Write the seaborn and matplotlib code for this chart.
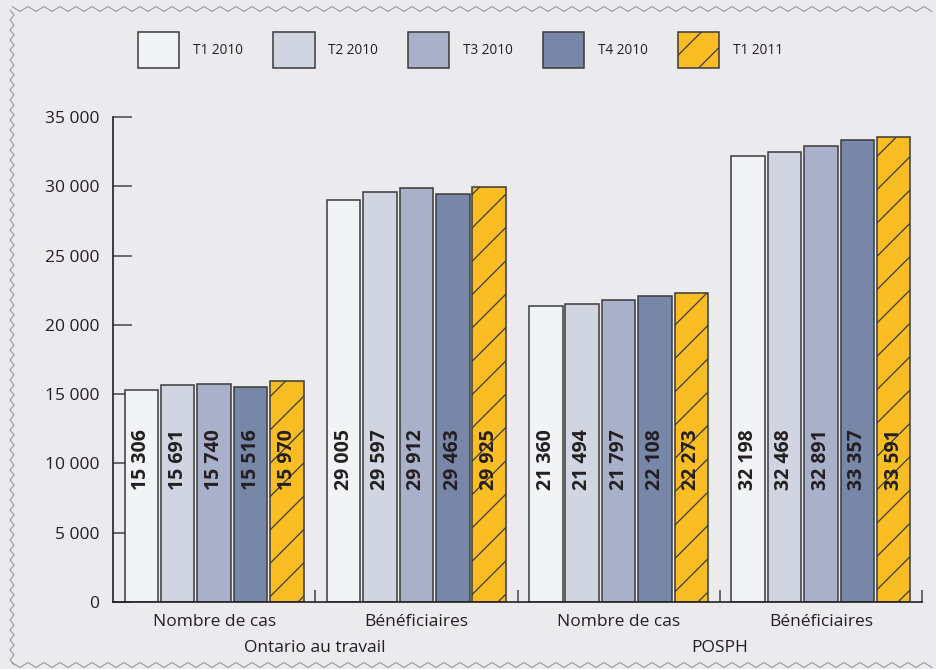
import numpy as np
import pandas as pd
import matplotlib
matplotlib.use("Agg")
import matplotlib.pyplot as plt
import matplotlib.transforms as mtransforms
from matplotlib.patches import Patch
from matplotlib.lines import Line2D
from matplotlib.ticker import FixedLocator, FuncFormatter
import seaborn as sns

# ---- data ----
programmes = ["Ontario au travail", "POSPH"]
categories = ["OT - Nombre de cas", "OT - Bénéficiaires", "POSPH - Nombre de cas", "POSPH - Bénéficiaires"]
cat_labels = ["Nombre de cas", "Bénéficiaires", "Nombre de cas", "Bénéficiaires"]
periods = ["T1 2010", "T2 2010", "T3 2010", "T4 2010", "T1 2011"]
t1_2010 = [15306, 29005, 21360, 32198]
t2_2010 = [15691, 29597, 21494, 32468]
t3_2010 = [15740, 29912, 21797, 32891]
t4_2010 = [15516, 29463, 22108, 33357]
t1_2011 = [15970, 29925, 22273, 33591]
series = [t1_2010, t2_2010, t3_2010, t4_2010, t1_2011]
yticks = [0, 5000, 10000, 15000, 20000, 25000, 30000, 35000]

colors = ["#f2f3f5", "#d0d5e1", "#a9b0ca", "#7886a8", "#fbbd24"]
bg = "#ebebee"
ink = "#231f20"

rows = []
for p, vals in zip(periods, series):
    for c, v in zip(categories, vals):
        rows.append({"cat": c, "period": p, "value": v})
df = pd.DataFrame(rows)

sns.set_theme(style="white")
plt.rcParams["font.family"] = ["Open Sans", "DejaVu Sans"]
plt.rcParams["hatch.linewidth"] = 0.9
plt.rcParams["hatch.color"] = "#333333"

fig = plt.figure(figsize=(9.36, 6.69), dpi=100, facecolor=bg)
ax = fig.add_axes([113 / 936, 1 - 602 / 669, (922 - 113) / 936, (602 - 117) / 669])
ax.set_facecolor(bg)

sns.barplot(data=df, x="cat", y="value", hue="period", order=categories, hue_order=periods,
            palette=colors, width=0.9, gap=0.08, edgecolor="#3a3a3a", linewidth=1.1,
            saturation=1, legend=False, ax=ax, zorder=2)

for bar in ax.containers[4]:
    bar.set_hatch("/")

# value labels
for cont, vals in zip(ax.containers, series):
    for bar, v in zip(cont, vals):
        ax.text(bar.get_x() + bar.get_width() / 2, 8100, f"{v:,}".replace(",", " "),
                rotation=90, ha="center", va="bottom", fontsize=14, fontweight="bold",
                color=ink, zorder=3)

ax.set_xlim(-0.5, 3.5)
ax.set_ylim(0, 35000)
ax.set_xlabel("")
ax.set_ylabel("")
ax.set_axisbelow(True)

ax.yaxis.set_major_locator(FixedLocator(yticks))
ax.yaxis.set_major_formatter(FuncFormatter(lambda v, p: f"{int(v):,}".replace(",", " ")))
ax.tick_params(axis="y", direction="in", length=14, width=1.1, color="#444444", pad=10,
               labelsize=12.5, labelcolor=ink, left=True)

ax.set_xticks(range(4))
ax.set_xticklabels(cat_labels)
ax.tick_params(axis="x", which="major", length=0, pad=9, labelsize=12.5, labelcolor=ink)
ax.xaxis.set_minor_locator(FixedLocator([0.5, 1.5, 2.5, 3.5]))
ax.tick_params(axis="x", which="minor", direction="in", length=9, width=1.1, color="#444444", bottom=True)

for s in ["top", "right"]:
    ax.spines[s].set_visible(False)
for s in ["left", "bottom"]:
    ax.spines[s].set_color(ink)
    ax.spines[s].set_linewidth(1.2)

trans = mtransforms.blended_transform_factory(ax.transData, ax.transAxes)
for i, prog in enumerate(programmes):
    ax.text(0.5 + 2 * i, -0.095, prog, transform=trans, ha="center", va="center",
            fontsize=12.5, color=ink)

# legend
handles = [Patch(facecolor=c, edgecolor="#3a3a3a", linewidth=1.1, hatch=("/" if i == 4 else None))
           for i, c in enumerate(colors)]
fig.legend(handles, periods, loc="center", bbox_to_anchor=(0.492, 1 - 50 / 669), ncol=5,
           frameon=False, fontsize=9.8, handlelength=3.05, handleheight=3.8,
           handletextpad=1.0, columnspacing=2.2, labelcolor=ink)

# zigzag decorative border
W, H = 936, 669
gray = "#9a9a9a"
xs = np.arange(12, W + 1, 8.0)
ys = 660 + np.where(np.arange(len(xs)) % 2 == 0, 2.5, -2.5)
fig.add_artist(Line2D(xs / W, ys / H, transform=fig.transFigure, color=gray, lw=0.8))
xs = np.arange(12, W + 1, 8.0)
ys = 4 + np.where(np.arange(len(xs)) % 2 == 0, 2.5, -2.5)
fig.add_artist(Line2D(xs / W, ys / H, transform=fig.transFigure, color=gray, lw=0.8))
ys = np.arange(4, 661, 5.0)
xs = 12 + np.where(np.arange(len(ys)) % 2 == 0, 2.0, -2.0)
fig.add_artist(Line2D(xs / W, ys / H, transform=fig.transFigure, color=gray, lw=0.8))

fig.savefig("out.png", dpi=100, facecolor=bg)
